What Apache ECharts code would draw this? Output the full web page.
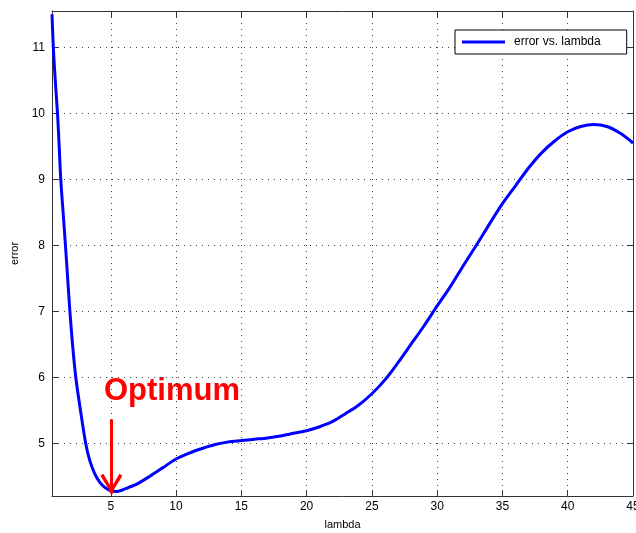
<!DOCTYPE html>
<html>
<head>
<meta charset="utf-8">
<title>error vs. lambda</title>
<script src="https://cdn.jsdelivr.net/npm/echarts@6/dist/echarts.min.js"></script>
<style>
  html, body { margin: 0; padding: 0; background: #fff; }
  #chart { width: 636px; height: 533px; }
</style>
</head>
<body>
<div id="chart"></div>
<script>
  // 数据: lambda / error
  var lambdaVals = [0.5, 0.6, 0.75, 0.92, 1.05, 1.17, 1.35, 1.53, 1.7, 1.87, 2.07, 2.32, 2.68, 3.08, 3.39, 3.77,
    4.15, 4.54, 5.0, 5.5, 6.0, 6.5, 7.0, 8.0, 9.0, 10.0,
    11, 12, 13, 14, 15, 16, 17, 18, 19, 20, 21, 22, 23, 24, 25, 26, 27, 28, 29, 30,
    31, 32, 33, 34, 35, 36, 37, 38, 39, 40, 41, 42, 43, 44, 45];
  var errorVals = [11.5, 11.0, 10.5, 10.0, 9.5, 9.0, 8.5, 8.0, 7.5, 7.0, 6.5, 6.0, 5.5, 5.0, 4.74, 4.54,
    4.41, 4.33, 4.28, 4.27, 4.30, 4.34, 4.38, 4.50, 4.63, 4.76,
    4.85, 4.92, 4.98, 5.02, 5.04, 5.06, 5.08, 5.11, 5.15, 5.19, 5.25, 5.33, 5.45, 5.58, 5.75, 5.96, 6.22, 6.50, 6.78, 7.08,
    7.37, 7.69, 8.0, 8.32, 8.63, 8.90, 9.17, 9.40, 9.58, 9.72, 9.80, 9.83, 9.80, 9.70, 9.55];
  var xTicks = [5, 10, 15, 20, 25, 30, 35, 40, 45];
  var yTicks = [5, 6, 7, 8, 9, 10, 11];
  var optimum = [5.05, 4.235];     // 箭头尖端
  var arrowTop = 5.36;

  var axisColor = '#333';
  var font = 'Liberation Sans';

  var seriesData = lambdaVals.map(function (x, i) {
    return [x, errorVals[i]];
  });

  // 上边/右边的框线 (只有刻度)
  function frameAxis (pos, min, max, ticks) {
    return {
      type: 'value',
      position: pos,
      min: min,
      max: max,
      axisLine: { show: true, onZero: false, lineStyle: { color: axisColor, width: 1 } },
      axisTick: { show: true, inside: true, length: 6, customValues: ticks, lineStyle: { color: axisColor } },
      axisLabel: { show: false },
      splitLine: { show: false }
    };
  }

  var gridLine = { show: true, lineStyle: { color: '#444', width: 1, type: [1, 5] } };

  var chart = echarts.init(document.getElementById('chart'));
  chart.setOption({
    animation: false,
    grid: { left: 52, top: 11, right: 3, bottom: 37, containLabel: false, outerBoundsMode: 'none' },
    legend: {
      left: 455,
      top: 30,
      orient: 'vertical',
      backgroundColor: '#fff',
      borderColor: '#000',
      borderWidth: 1,
      borderRadius: 0,
      padding: [6, 26, 6, 7],
      icon: 'rect',
      itemWidth: 43,
      itemHeight: 3,
      textStyle: { fontFamily: font, fontSize: 12, color: '#000', padding: [0, 0, 0, 4] },
      data: ['error vs. lambda']
    },
    xAxis: [{
      type: 'value',
      min: 0.5,
      max: 45,
      name: 'lambda',
      nameLocation: 'middle',
      nameGap: 23,
      nameTextStyle: { fontFamily: font, fontSize: 11, color: '#000' },
      axisLine: { show: true, onZero: false, lineStyle: { color: axisColor, width: 1 } },
      axisTick: { show: true, inside: true, length: 6, customValues: xTicks, lineStyle: { color: axisColor } },
      axisLabel: { customValues: xTicks, fontFamily: font, fontSize: 12, color: '#000', margin: 5 },
      splitLine: gridLine
    }, frameAxis('top', 0.5, 45, xTicks)],
    yAxis: [{
      type: 'value',
      min: 4.2,
      max: 11.55,
      name: 'error',
      nameLocation: 'middle',
      nameGap: 28,
      nameTextStyle: { fontFamily: font, fontSize: 11, color: '#000' },
      axisLine: { show: true, onZero: false, lineStyle: { color: axisColor, width: 1 } },
      axisTick: { show: true, inside: true, length: 6, customValues: yTicks, lineStyle: { color: axisColor } },
      axisLabel: { customValues: yTicks, fontFamily: font, fontSize: 12, color: '#000', margin: 7 },
      splitLine: gridLine
    }, frameAxis('right', 4.2, 11.55, yTicks)],
    graphic: [{
      type: 'text',
      left: 104,
      top: 376,
      style: { text: 'Optimum', fontFamily: font, fontSize: 31, fontWeight: 'bold', fill: '#f00' }
    }],
    series: [{
      name: 'error vs. lambda',
      type: 'line',
      data: seriesData,
      smooth: 0.3,
      showSymbol: false,
      lineStyle: { color: '#0000ff', width: 3 },
      itemStyle: { color: '#0000ff' },
      markLine: {
        silent: true,
        symbol: ['none', 'none'],
        label: { show: false },
        lineStyle: { color: '#f00', width: 3, type: 'solid' },
        data: [[{ coord: [optimum[0], arrowTop] }, { coord: optimum }]]
      },
      markPoint: {
        silent: true,
        // 箭头 (V 形)
        symbol: 'path://M0,2 L3,0 L11,14 L19,0 L22,2 L11,20 Z',
        symbolSize: [22, 20],
        symbolOffset: [0, '-50%'],
        itemStyle: { color: '#f00' },
        label: { show: false },
        data: [{ coord: optimum }]
      }
    }]
  });
</script>
</body>
</html>
